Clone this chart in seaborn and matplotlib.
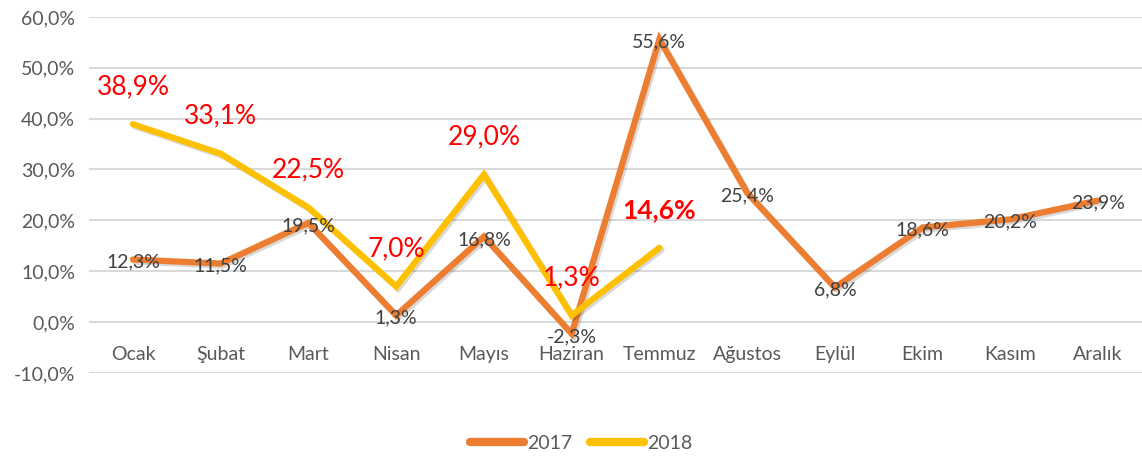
import pandas as pd
import numpy as np
import seaborn as sns
import matplotlib.pyplot as plt
import matplotlib.patheffects as pe

# %% Datos
aylar = ['Ocak', 'Şubat', 'Mart', 'Nisan', 'Mayıs', 'Haziran', 'Temmuz',
         'Ağustos', 'Eylül', 'Ekim', 'Kasım', 'Aralık']
degerler_2017 = [12.3, 11.5, 19.5, 1.3, 16.8, -2.3, 55.6, 25.4, 6.8, 18.6, 20.2, 23.9]
degerler_2018 = [38.9, 33.1, 22.5, 7.0, 29.0, 1.3, 14.6]
yillar = ['2017', '2018']
renkler = {'2017': '#ED7D31', '2018': '#FFC000'}

df = pd.DataFrame({
    'ay': aylar + aylar[:len(degerler_2018)],
    'deger': degerler_2017 + degerler_2018,
    'yil': ['2017'] * len(degerler_2017) + ['2018'] * len(degerler_2018),
})

# %% Grafik
sns.set_style('white')
plt.rcParams['font.family'] = ['Lato', 'DejaVu Sans']

fig = plt.figure(figsize=(11.42, 4.57), dpi=100)
ax = fig.add_axes([0.078, 0.184, 0.922, 0.779])

golge = [pe.SimpleLineShadow(offset=(1.5, -1.5), alpha=0.15, rho=0.6), pe.Normal()]
sns.lineplot(data=df, x='ay', y='deger', hue='yil', hue_order=yillar, palette=renkler,
             sort=False, linewidth=4.5, ax=ax, legend=False,
             path_effects=golge, solid_capstyle='round', solid_joinstyle='miter')

ax.set_xlim(-0.5, len(aylar) - 0.5)
ax.set_ylim(-10, 60)
ax.set_yticks(range(-10, 61, 10))
ax.set_yticklabels([f'{v:.1f}%'.replace('.', ',') for v in range(-10, 61, 10)])
ax.yaxis.grid(True, color='#D9D9D9', linewidth=1.5)
ax.xaxis.grid(False)
ax.set_axisbelow(True)
for s in ax.spines.values():
    s.set_visible(False)
ax.spines['bottom'].set_position(('data', 0))
ax.tick_params(axis='x', length=0, pad=17, labelsize=14, labelcolor='#595959')
ax.tick_params(axis='y', length=0, pad=10, labelsize=14, labelcolor='#595959')
ax.set_xlabel('')
ax.set_ylabel('')

# Etiquetas 2017 (centradas sobre el punto)
for i, v in enumerate(degerler_2017):
    ax.annotate(f'{v:.1f}%'.replace('.', ','), (i, v), xytext=(0, -2),
                textcoords='offset points', ha='center', va='center',
                fontsize=14, color='#404040')

# Etiquetas 2018 (encima del punto, en rojo)
for i, v in enumerate(degerler_2018):
    negrita = 'bold' if i == len(degerler_2018) - 1 else 'normal'
    ax.annotate(f'{v:.1f}%'.replace('.', ','), (i, v), xytext=(0, 27),
                textcoords='offset points', ha='center', va='center',
                fontsize=19, color='#FF0000', fontweight=negrita)

# Leyenda
manejadores = [plt.Line2D([], [], color=renkler[y], linewidth=6, solid_capstyle='round')
               for y in yillar]
fig.legend(manejadores, yillar, loc='lower center', ncol=2, frameon=False,
           fontsize=14, labelcolor='#595959', handlelength=2.8, handletextpad=0.15,
           columnspacing=0.9, bbox_to_anchor=(0.509, -0.027))

plt.savefig('out.png', dpi=100)
